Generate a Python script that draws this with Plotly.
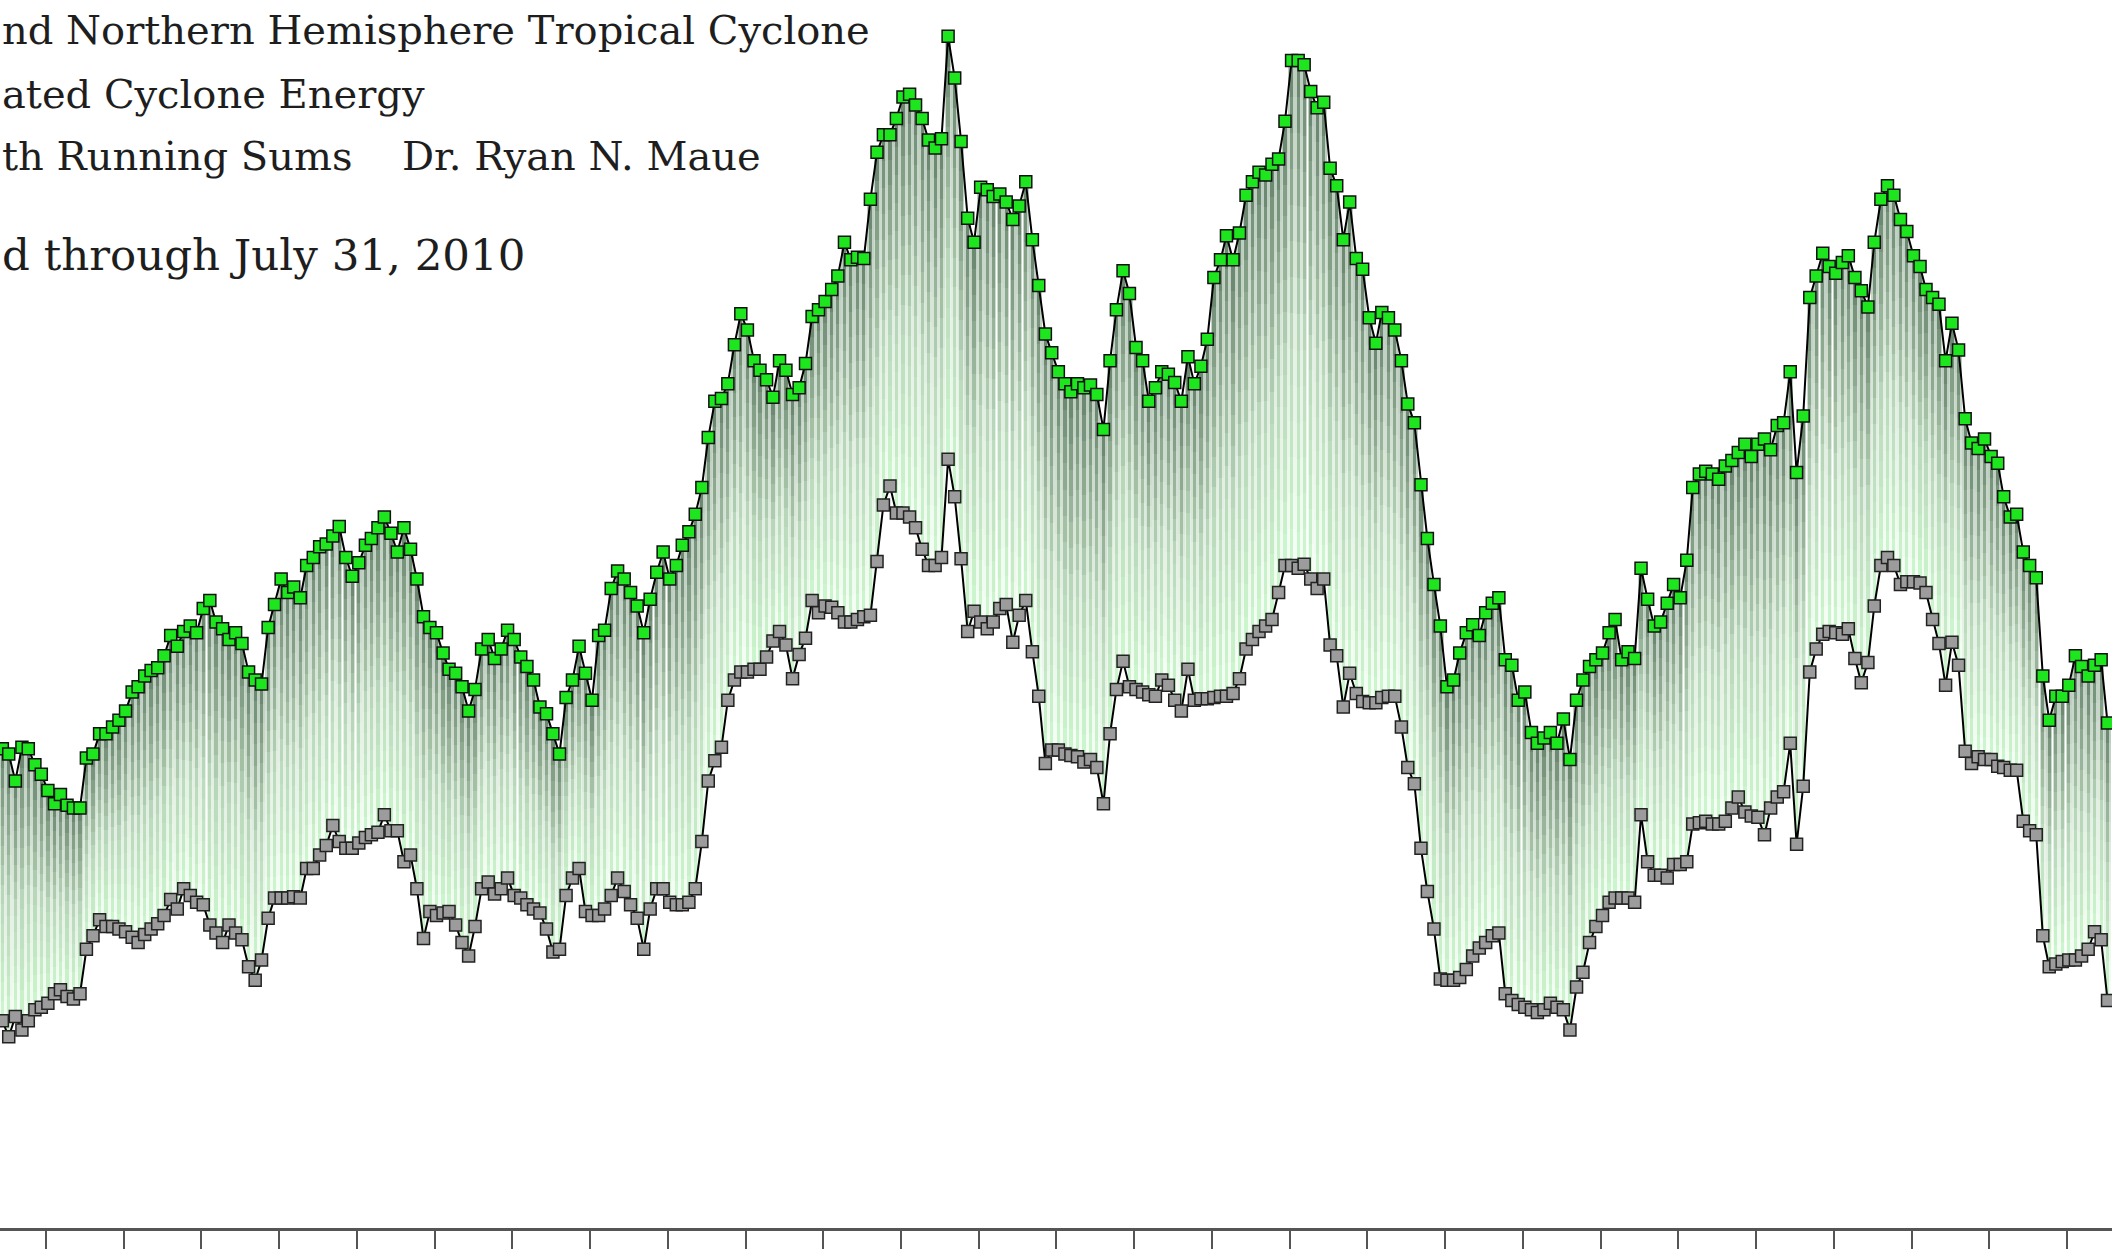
import numpy as np
import pandas as pd
import plotly.graph_objects as go

# 24-month running sums (unlabelled scale), monthly points
global_ace = [
    444, 440, 420, 445, 444, 432, 425, 413, 403, 410, 402, 400,
    400, 437, 440, 455, 455, 460, 465, 472, 486, 490, 498, 502,
    504, 513, 528, 520, 531, 535, 530, 548, 554, 538, 533, 525,
    530, 522, 501, 495, 492, 534, 551, 570, 560, 564, 556, 580,
    586, 594, 596, 602, 609, 586, 572, 582, 595, 600, 608, 616,
    604, 590, 608, 592, 570, 542, 534, 530, 515, 503, 500, 490,
    472, 488, 518, 525, 511, 518, 532, 525, 512, 505, 495, 475,
    470, 455, 440, 482, 495, 520, 500, 480, 528, 532, 563, 576,
    570, 560, 550, 530, 555, 575, 590, 570, 580, 595, 605, 618,
    638, 675, 702, 704, 715, 744, 767, 755, 732, 725, 718, 705,
    732, 725, 707, 712, 730, 765, 770, 776, 785, 795, 820, 807,
    809, 808, 852, 887, 900, 900, 912, 928, 930, 922, 912, 896,
    890, 897, 973, 942, 895, 838, 820, 861, 859, 854, 856, 850,
    837, 847, 865, 822, 788, 752, 738, 724, 715, 709, 715, 712,
    714, 707, 681, 732, 770, 799, 782, 742, 732, 702, 712, 724,
    722, 716, 702, 735, 715, 728, 748, 794, 807, 825, 807, 827,
    855, 865, 872, 870, 878, 882, 910, 955, 955, 952, 932, 920,
    924, 875, 862, 822, 850, 808, 800, 764, 745, 768, 764, 755,
    732, 700, 686, 640, 600, 566, 535, 490, 495, 515, 530, 536,
    528, 545, 552, 556, 510, 506, 480, 486, 456, 448, 452, 456,
    448, 466, 436, 480, 495, 505, 510, 515, 530, 540, 510, 516,
    511, 578, 555, 535, 538, 552, 566, 556, 584, 638, 648, 650,
    648, 644, 654, 658, 664, 670, 661, 670, 674, 666, 684, 686,
    724, 649, 691, 779, 795, 812, 802, 797, 805, 810, 794, 784,
    772, 820, 852, 862, 855, 837, 828, 810, 802, 785, 779, 774,
    732, 760, 740, 689, 671, 667, 674, 661, 656, 631, 616, 618,
    590, 580, 571, 498, 465, 483, 483, 491, 513, 505, 498, 506,
    510, 463,
]

nh_ace = [
    242, 230, 245, 235, 242, 250, 252, 255, 262, 265, 260, 258,
    262, 295, 305, 317, 312, 312, 310, 308, 304, 300, 306, 310,
    314, 320, 332, 325, 340, 335, 330, 328, 313, 307, 300, 313,
    307, 302, 282, 272, 287, 318, 333, 333, 333, 334, 333, 355,
    355, 365, 372, 387, 375, 370, 370, 374, 378, 380, 382, 395,
    383, 383, 360, 365, 340, 303, 323, 320, 322, 323, 313, 300,
    290, 312, 340, 345, 336, 340, 348, 335, 333, 328, 325, 322,
    310, 293, 295, 335, 348, 355, 323, 320, 320, 325, 335, 348,
    338, 328, 318, 295, 325, 340, 340, 330, 328, 328, 330, 340,
    375, 420, 435, 445, 480, 495, 501, 501, 503, 503, 512, 524,
    531, 521, 496, 514, 526, 554, 545, 550, 549, 545, 538, 538,
    540, 542, 543, 583, 625, 639, 619, 619, 616, 608, 592, 580,
    580, 586, 659, 631, 585, 531, 546, 538, 533, 538, 548, 551,
    523, 543, 554, 516, 483, 433, 443, 443, 440, 439, 438, 434,
    436, 430, 403, 455, 488, 509, 490, 488, 486, 484, 483, 495,
    491, 480, 472, 503, 480, 481, 481, 482, 483, 483, 485, 496,
    518, 525, 531, 535, 540, 560, 580, 580, 578, 581, 570, 563,
    570, 521, 513, 475, 500, 485, 479, 478, 478, 482, 483, 483,
    460, 430, 418, 370, 338, 310, 273, 272, 272, 274, 280, 290,
    296, 300, 305, 307, 262, 257, 254, 252, 250, 248, 250, 255,
    252, 250, 235, 267, 278, 300, 312, 320, 330, 333, 333, 333,
    330, 395, 360, 350, 350, 348, 358, 358, 360, 388, 389, 390,
    388, 388, 390, 400, 408, 397, 394, 393, 380, 400, 408, 412,
    448, 373, 416, 501, 518, 529, 531, 530, 529, 533, 511, 493,
    508, 550, 580, 586, 580, 566, 568, 568, 567, 560, 540, 522,
    491, 523, 506, 442, 433, 438, 436, 436, 431, 430, 428, 428,
    390, 383, 380, 305, 282, 284, 286, 287, 287, 290, 295, 308,
    302, 257,
]

title_lines = [
    "nd Northern Hemisphere Tropical Cyclone",
    "ated Cyclone Energy",
    "th Running Sums",
    "Dr. Ryan N. Maue",
    "d through July 31, 2010",
]

W, H = 2112, 1258
PLOT_H = 1228  # plot area height in px (bottom margin 30)

months = pd.date_range("1981-06-01", periods=len(global_ace), freq="MS") + pd.Timedelta(days=9)
g = np.array(global_ace, dtype=float)
n = np.array(nh_ace, dtype=float)
span = g - n

MONTH_MS = 30.44 * 24 * 3600 * 1000
N_SEG = 14


def mix(stops, t):
    """Linear colour interpolation along [(t, (r,g,b)), ...]."""
    for (t0, c0), (t1, c1) in zip(stops[:-1], stops[1:]):
        if t0 <= t <= t1:
            f = (t - t0) / (t1 - t0)
            r, gg, b = [round(a + (bb - a) * f) for a, bb in zip(c0, c1)]
            return f"rgb({r},{gg},{b})"
    return "rgb(255,255,255)"


# t = 0 at the NH point (bottom), t = 1 at the global point (top)
wide_stops = [(0.0, (246, 255, 246)), (0.5, (224, 238, 224)), (1.0, (186, 202, 188))]
narrow_stops = [(0.0, (205, 248, 205)), (0.45, (186, 216, 188)), (1.0, (104, 132, 108))]

fig = go.Figure()

for width_frac, stops in [(1.0, wide_stops), (0.5, narrow_stops)]:
    for i in range(N_SEG):
        t = (i + 0.5) / N_SEG
        fig.add_trace(go.Bar(
            x=months,
            y=span / N_SEG,
            base=n + span * i / N_SEG,
            width=MONTH_MS * width_frac,
            marker=dict(color=mix(stops, t), line=dict(width=0)),
            hoverinfo="skip",
            showlegend=False,
        ))

fig.add_trace(go.Scatter(
    x=months, y=nh_ace, mode="lines+markers",
    line=dict(color="black", width=2),
    marker=dict(symbol="square", size=12, color="#9c9c9c",
                line=dict(color="#222222", width=1.5)),
    name="Northern Hemisphere", showlegend=False,
))
fig.add_trace(go.Scatter(
    x=months, y=global_ace, mode="lines+markers",
    line=dict(color="black", width=2),
    marker=dict(symbol="square", size=12, color="#1ee61e",
                line=dict(color="#111111", width=1.5)),
    name="Global", showlegend=False,
))

# title block (cut off at the left edge in the reference)
text_pos = [(0, 30, 40), (0, 94, 40), (0, 156, 40), (400, 156, 40), (0, 255, 43.5)]
for txt, (px, py, fs) in zip(title_lines, text_pos):
    fig.add_annotation(
        text=txt, xref="paper", yref="paper",
        x=px / W, y=1 - py / PLOT_H, xanchor="left", yanchor="middle",
        showarrow=False,
        font=dict(family="DejaVu Serif", size=fs, color="#1e1e1e"),
    )

fig.update_layout(
    width=W, height=H,
    margin=dict(l=0, r=0, t=0, b=H - PLOT_H),
    paper_bgcolor="white", plot_bgcolor="white",
    barmode="overlay", bargap=0, showlegend=False,
    xaxis=dict(
        type="date", range=["1981-05-30", "2008-07-31"],
        showgrid=False, zeroline=False,
        showline=True, linecolor="#555555", linewidth=3,
        ticks="outside", ticklen=18, tickwidth=2, tickcolor="#555555",
        tick0="1982-01-01", dtick="M12", showticklabels=False,
    ),
    yaxis=dict(range=[88, 1000], visible=False),
)

# drop the browser's default 8px body margin so the figure sits at the page corner
fig.write_html(
    "out.html",
    config={"displayModeBar": False},
    post_script="document.body.style.margin='0px';",
)
